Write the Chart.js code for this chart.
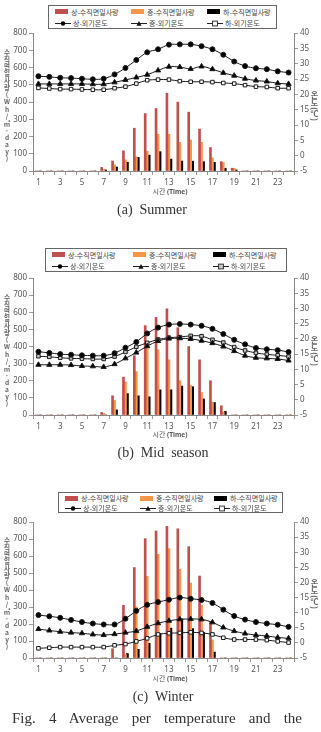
<!DOCTYPE html>
<html>
<head>
<meta charset="utf-8">
<script src="https://cdn.jsdelivr.net/npm/chart.js@4.4.0/dist/chart.umd.min.js"></script>
<style>
  body { margin: 0; background: #fff; width: 321px; height: 732px; position: relative; overflow: hidden; }
  .abs { position: absolute; }
  .legend { position: absolute; border: 1px solid #666; box-sizing: border-box; background: #fff; }
  .item { position: absolute; display: flex; align-items: center; font: 7px "Noto Sans CJK KR", sans-serif; color: #444; white-space: nowrap; line-height: 8px; }
  .swatch { display: inline-block; width: 13px; height: 5px; margin-right: 3px; }
  .ytitle { position: absolute; writing-mode: vertical-rl; text-orientation: upright; font: bold 6.5px "Noto Sans CJK KR", sans-serif; color: #666; line-height: 7px; letter-spacing: 0.6px; }
  .rtitle { position: absolute; writing-mode: vertical-rl; text-orientation: mixed; font: bold 8px "Noto Sans CJK KR", sans-serif; color: #666; line-height: 9px; }
  .xtitle { position: absolute; font: 7px "Noto Sans CJK KR", sans-serif; color: #555; white-space: nowrap; transform: translateX(-50%); }
  .xtitle b { font: bold 6.5px "Noto Sans", sans-serif; }
  .caption { position: absolute; font: 14px "Liberation Serif", serif; color: #333; white-space: pre; transform: translateX(-50%); }
  .fig { position: absolute; left: 12px; width: 290px; font: 15px "Liberation Serif", serif; color: #333; white-space: nowrap; text-align: justify; text-align-last: justify; }
</style>
</head>
<body>
<script>
// hours of the day
const hours = ['1','2','3','4','5','6','7','8','9','10','11','12','13','14','15','16','17','18','19','20','21','22','23','24'];
const seriesNames = ['상-수직면일사량', '중-수직면일사량', '하-수직면일사량', '상-외기온도', '중-외기온도', '하-외기온도'];
const captions = ['(a)  Summer', '(b)  Mid  season', '(c)  Winter'];
const solarAxis = [0, 800, 100];   // min, max, step
const tempAxis = [-5, 40, 5];

// summer
const summerSolarUpper = [0,0,0,0,0,0,21,58,117,248,333,362,451,399,341,243,136,54,16,0,0,0,0,0];
const summerSolarMid   = [0,0,0,0,0,0,10,35,64,81,115,213,213,166,180,166,76,50,15,0,0,0,0,0];
const summerSolarLower = [0,0,0,0,0,0,6,23,51,79,92,112,69,58,57,54,50,16,6,0,0,0,0,0];
const summerTempUpper = [25.9,25.7,25.4,25.3,25.1,24.9,25.1,26.5,28.6,31.2,33.7,34.7,36.2,36.3,36.3,35.7,34.7,32.9,30.7,29.2,28.5,28.2,27.5,27.1];
const summerTempMid   = [23.4,23.4,23.4,23.4,23.4,23.3,23.3,23.9,24.7,25.5,26.4,27.8,29.0,28.9,28.3,29.1,28.2,27.0,26.1,25.1,24.5,24.2,23.6,23.4];
const summerTempLower = [22.1,21.9,21.7,21.7,21.6,21.5,21.5,22.0,22.5,23.5,24.6,24.8,24.8,24.3,24.1,24.1,24.0,23.7,23.5,23.0,22.5,22.4,22.0,22.0];

// mid season
const midSolarUpper = [0,0,0,0,0,0,15,112,221,346,522,570,620,510,400,322,200,54,0,0,0,0,0,0];
const midSolarMid   = [0,0,0,0,0,0,10,85,193,254,395,381,322,200,172,131,75,17,0,0,0,0,0,0];
const midSolarLower = [0,0,0,0,0,0,0,30,125,112,106,147,147,169,165,94,73,21,0,0,0,0,0,0];
const midTempUpper = [15.8,15.4,15.0,14.8,14.6,14.5,14.5,15.3,17.1,19.0,21.8,23.7,24.7,24.9,24.7,24.3,23.3,21.6,19.7,18.2,17.0,16.6,16.3,15.7];
const midTempMid   = [11.5,11.5,11.5,11.4,11.1,11.0,10.8,11.7,13.6,15.5,17.6,19.3,20.1,20.2,20.0,19.4,18.6,17.5,16.0,14.5,13.8,13.6,13.4,12.9];
const midTempLower = [14.3,14.1,13.8,13.6,13.5,13.4,13.4,14.2,15.7,17.4,18.7,19.8,20.4,20.6,21.0,20.9,19.7,18.8,17.3,16.2,15.4,14.9,14.6,14.2];

// winter
const winterSolarUpper = [0,0,0,0,0,0,0,55,310,532,702,747,775,760,655,482,214,0,0,0,0,0,0,0];
const winterSolarMid   = [0,0,0,0,0,0,0,0,20,300,481,610,643,522,441,310,106,0,0,0,0,0,0,0];
const winterSolarLower = [0,0,0,0,0,0,0,0,26,51,87,145,176,230,173,151,35,0,0,0,0,0,0,0];
const winterTempUpper = [9.2,8.8,8.3,7.6,6.9,6.4,6.1,6.1,8.0,10.6,12.6,13.5,14.3,15.0,14.6,14.2,13.2,11.0,8.9,7.7,6.9,6.4,6.0,5.3];
const winterTempMid   = [4.6,4.1,3.7,3.4,3.2,2.8,2.6,2.9,3.4,3.9,5.3,6.5,7.3,7.8,7.9,7.8,6.8,5.1,3.9,3.1,2.6,2.3,1.8,1.5];
const winterTempLower = [-1.8,-1.6,-1.4,-1.4,-1.4,-1.4,-1.4,-0.8,-0.4,0.5,1.5,2.8,3.2,3.3,3.5,3.3,2.8,1.7,1.1,1.1,1.1,0.9,0.5,0.1];

// page layout of the three panels
const panels = [
  { solar: [summerSolarUpper, summerSolarMid, summerSolarLower], temp: [summerTempUpper, summerTempMid, summerTempLower],
    plotTop: 33, plotBottom: 171, legend: [48, 5, 229, 24], xTitleY: 186, captionY: 202, captionX: 152, squareFill: '#fff' },
  { solar: [midSolarUpper, midSolarMid, midSolarLower], temp: [midTempUpper, midTempMid, midTempLower],
    plotTop: 278, plotBottom: 415, legend: [45, 248, 242, 24], xTitleY: 429, captionY: 445, captionX: 163, squareFill: '#c8c8c8' },
  { solar: [winterSolarUpper, winterSolarMid, winterSolarLower], temp: [winterTempUpper, winterTempMid, winterTempLower],
    plotTop: 522, plotBottom: 658, legend: [58, 492, 225, 21], xTitleY: 673, captionY: 689, captionX: 163, squareFill: '#fff' }
];

const barColors = ['#c0504d', '#f79646', '#000000'];
const plotLeft = 33, plotRight = 294, xAxisH = 22, padTop = 8;

function markerSvg(kind, fill) {
  let m = '';
  if (kind === 0) m = '<circle cx="8" cy="3.5" r="2.2" fill="#000"/>';
  if (kind === 1) m = '<polygon points="8,1 10.6,5.8 5.4,5.8" fill="#111"/>';
  if (kind === 2) m = '<rect x="5.6" y="1.1" width="4.8" height="4.8" fill="' + fill + '" stroke="#222" stroke-width="0.9"/>';
  return '<svg width="16" height="7" style="margin-right:2px"><line x1="0" y1="3.5" x2="16" y2="3.5" stroke="#222" stroke-width="1"/>' + m + '</svg>';
}

panels.forEach(function (p, idx) {
  // legend box
  const [lx, ly, lw, lh] = p.legend;
  const box = document.createElement('div');
  box.className = 'legend';
  box.style.left = lx + 'px'; box.style.top = ly + 'px';
  box.style.width = lw + 'px'; box.style.height = lh + 'px';
  const cols = [6, Math.round(lw * 0.36), Math.round(lw * 0.69)];
  for (let i = 0; i < 6; i++) {
    const it = document.createElement('div');
    it.className = 'item';
    const col = i % 3, row = Math.floor(i / 3);
    it.style.left = cols[col] + 'px';
    it.style.top = (row === 0 ? lh * 0.27 : lh * 0.74) - 4.5 + 'px';
    if (row === 0) {
      it.innerHTML = '<span class="swatch" style="background:' + barColors[col] + '"></span>' + seriesNames[i];
    } else {
      it.innerHTML = markerSvg(col, p.squareFill) + seriesNames[i];
    }
    box.appendChild(it);
  }
  document.body.appendChild(box);

  // chart canvas
  const canvas = document.createElement('canvas');
  const cTop = p.plotTop - padTop;
  const cH = p.plotBottom - p.plotTop + padTop + xAxisH;
  canvas.width = 321; canvas.height = cH;
  canvas.className = 'abs';
  canvas.style.left = '0px'; canvas.style.top = cTop + 'px';
  canvas.style.width = '321px'; canvas.style.height = cH + 'px';
  document.body.appendChild(canvas);

  const pointStyles = ['circle', 'triangle', 'rect'];
  const datasets = [];
  for (let i = 0; i < 3; i++) {
    datasets.push({
      type: 'bar', label: seriesNames[i], data: p.solar[i], yAxisID: 'y',
      backgroundColor: barColors[i], borderWidth: 0, barThickness: 2, order: 1
    });
  }
  for (let i = 0; i < 3; i++) {
    datasets.push({
      type: 'line', label: seriesNames[i + 3], data: p.temp[i], yAxisID: 'y1',
      borderColor: '#1a1a1a', borderWidth: 1, tension: 0.35,
      pointStyle: pointStyles[i], pointRadius: i === 1 ? 3 : 2.5,
      pointBackgroundColor: i === 2 ? p.squareFill : '#000',
      pointBorderColor: '#1a1a1a', pointBorderWidth: 1, order: 0
    });
  }

  const tickFont = { family: 'Noto Sans', size: 8 };
  new Chart(canvas.getContext('2d'), {
    type: 'bar',
    data: { labels: hours, datasets: datasets },
    options: {
      responsive: false, animation: false, devicePixelRatio: 1,
      layout: { padding: { top: padTop, left: 0, right: 0, bottom: 0 } },
      plugins: { legend: { display: false }, tooltip: { enabled: false } },
      scales: {
        x: {
          offset: true,
          grid: { display: true, drawOnChartArea: false, drawTicks: true, tickLength: 4, color: '#999', offset: true },
          border: { color: '#888' },
          ticks: { font: tickFont, color: '#555', autoSkip: false, maxRotation: 0, padding: 3,
                   callback: function (v, i) { return i % 2 === 0 ? hours[i] : ''; } },
          afterFit: function (s) { s.height = xAxisH; }
        },
        y: {
          position: 'left', min: solarAxis[0], max: solarAxis[1],
          grid: { drawOnChartArea: false, tickLength: 4, color: '#999' },
          border: { color: '#888' },
          ticks: { stepSize: solarAxis[2], font: tickFont, color: '#555', padding: 2 },
          afterFit: function (s) { s.width = plotLeft; }
        },
        y1: {
          position: 'right', min: tempAxis[0], max: tempAxis[1],
          grid: { drawOnChartArea: false, tickLength: 4, color: '#999' },
          border: { color: '#888' },
          ticks: { stepSize: tempAxis[2], font: tickFont, color: '#555', padding: 2 },
          afterFit: function (s) { s.width = 321 - plotRight; }
        }
      }
    }
  });

  // axis titles
  const mid = (p.plotTop + p.plotBottom) / 2;
  const yt = document.createElement('div');
  yt.className = 'ytitle';
  yt.textContent = '수직면일사량(Wh/㎡·day)';
  document.body.appendChild(yt);
  yt.style.left = '3px';
  yt.style.top = (mid - yt.offsetHeight / 2 + 4) + 'px';

  const rt = document.createElement('div');
  rt.className = 'rtitle';
  rt.textContent = '온도(℃)';
  document.body.appendChild(rt);
  rt.style.left = '310px';
  rt.style.top = (mid - rt.offsetHeight / 2 + 4) + 'px';

  const xt = document.createElement('div');
  xt.className = 'xtitle';
  xt.innerHTML = '시간 <b>(Time)</b>';
  xt.style.left = '170px'; xt.style.top = p.xTitleY + 'px';
  document.body.appendChild(xt);

  const cap = document.createElement('div');
  cap.className = 'caption';
  cap.textContent = captions[idx];
  cap.style.left = p.captionX + 'px'; cap.style.top = p.captionY + 'px';
  document.body.appendChild(cap);
});

const fig = document.createElement('div');
fig.className = 'fig';
fig.textContent = 'Fig. 4  Average per temperature and the';
fig.style.top = '710px';
document.body.appendChild(fig);
</script>
</body>
</html>
